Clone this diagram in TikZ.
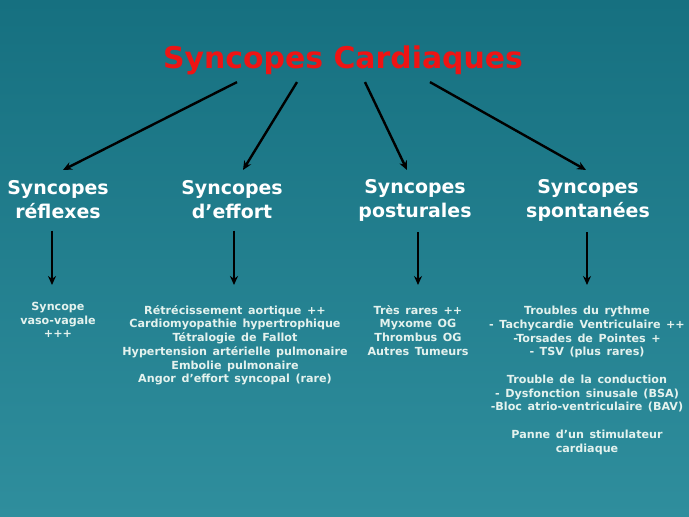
\documentclass[tikz,border=0pt]{standalone}
\usepackage{fontspec}
\setmainfont{DejaVu Sans}
\usetikzlibrary{arrows.meta,positioning}
\definecolor{SeaTop}{HTML}{167080}
\definecolor{SeaMid}{HTML}{2A8292}
\definecolor{SeaBottom}{HTML}{2F8E9D}
\definecolor{TitleRed}{HTML}{EE1414}
\definecolor{NoteWhite}{HTML}{E4F2EE}
\newcommand\widespaces{\spaceskip=0.5em\relax}

\begin{document}
\begin{tikzpicture}[x=1bp,y=-1bp,>={Stealth[length=9bp,width=8bp]},
  heading/.style={align=center,white,font=\fontsize{19}{24}\selectfont\bfseries},
  note/.style={align=center,NoteWhite,anchor=north,inner sep=0pt,
    font=\fontsize{11.2}{13.8}\selectfont\bfseries\widespaces},
  link/.style={->,line width=2.4bp,black}]
  \shade[top color=SeaTop,middle color=SeaMid,bottom color=SeaBottom] (0,0) rectangle (689,517);
  \useasboundingbox (0,0) rectangle (689,517);
  % title and the four families
  \node[TitleRed,font=\fontsize{30}{34}\selectfont\bfseries] (title) at (343,60) {Syncopes Cardiaques};
  \node[heading] (h1) at (58,200) {Syncopes\\réflexes};
  \node[heading] (h2) at (232,200) {Syncopes\\d’effort};
  \node[heading] (h3) at (415,200) {Syncopes\\posturales};
  \node[heading] (h4) at (588,200) {Syncopes\\spontanées};
  \coordinate (tip1) at (63,170);
  \coordinate (tip2) at (243,170);
  \coordinate (tip3) at (407,170);
  \coordinate (tip4) at (586,170);
  \draw[link] ([xshift=-106bp,yshift=-4bp]title.south) -- (tip1);
  \draw[link] ([xshift=-46bp,yshift=-4bp]title.south) -- (tip2);
  \draw[link] ([xshift=22bp,yshift=-4bp]title.south) -- (tip3);
  \draw[link] ([xshift=87bp,yshift=-4bp]title.south) -- (tip4);
  % causes
  \node[note] (t1) at (58,302) {Syncope\\vaso-vagale\\+++};
  \node[note] (t2) at (235,305) {Rétrécissement aortique ++\\Cardiomyopathie hypertrophique\\Tétralogie de Fallot\\Hypertension artérielle pulmonaire\\Embolie pulmonaire\\Angor d’effort syncopal (rare)};
  \node[note] (t3) at (418,305) {Très rares ++\\Myxome OG\\Thrombus OG\\Autres Tumeurs};
  \node[note] (t4) at (587,306) {Troubles du rythme\\- Tachycardie Ventriculaire ++\\-Torsades de Pointes +\\- TSV (plus rares)\\[13.8bp]Trouble de la conduction\\- Dysfonction sinusale (BSA)\\-Bloc atrio-ventriculaire (BAV)\\[13.8bp]Panne d’un stimulateur\\cardiaque};
  \draw[link,shorten <=8bp,shorten >=17bp] ([xshift=-6bp]h1.south) -- ([xshift=-6bp]h1.south |- t1.north);
  \draw[link,shorten <=8bp,shorten >=20bp] ([xshift=2bp]h2.south) -- ([xshift=2bp]h2.south |- t2.north);
  \draw[link,shorten <=8bp,shorten >=20bp] ([xshift=3bp]h3.south) -- ([xshift=3bp]h3.south |- t3.north);
  \draw[link,shorten <=8bp,shorten >=21bp] ([xshift=-1bp]h4.south) -- ([xshift=-1bp]h4.south |- t4.north);
\end{tikzpicture}
\end{document}
